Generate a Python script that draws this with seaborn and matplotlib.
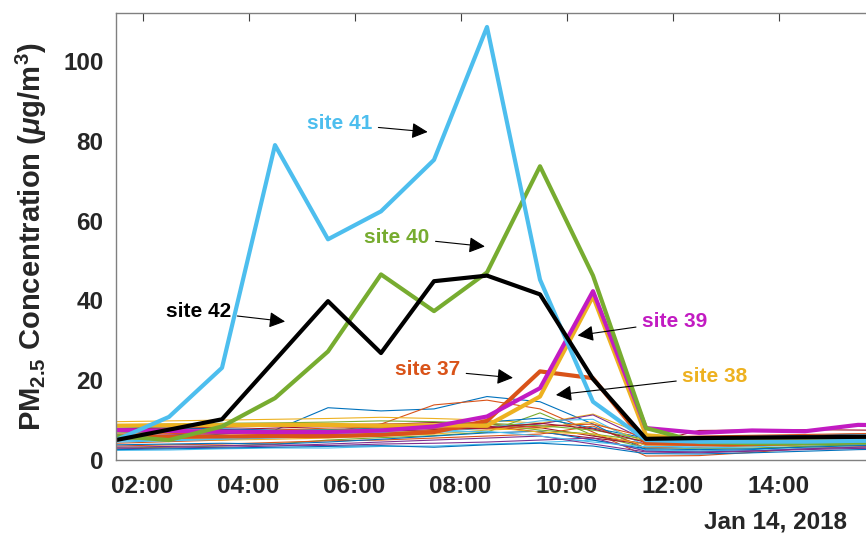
import matplotlib
matplotlib.use("Agg")
import matplotlib.pyplot as plt
import matplotlib.dates as mdates
import seaborn as sns
import pandas as pd

# hourly samples, Jan 14 2018, 01:30 .. 16:30
times = pd.date_range("2018-01-14 01:30", periods=16, freq="h")

# background sites (thin lines)
thin_sites = [
    [5.0, 5.5, 6.5, 7.5, 13.1, 12.3, 12.8, 15.9, 14.6, 9.0, 2.5, 2.2, 2.6, 3.4, 3.8, 4.0],
    [4.2, 4.6, 5.0, 5.8, 7.0, 9.0, 13.8, 15.0, 12.8, 7.0, 1.0, 1.1, 1.9, 2.9, 3.3, 3.5],
    [9.6, 9.8, 10.0, 10.2, 10.4, 10.7, 10.4, 10.0, 9.2, 11.5, 6.2, 5.6, 5.4, 5.8, 6.0, 6.1],
    [6.0, 6.3, 6.6, 7.0, 7.1, 7.5, 8.0, 8.2, 9.0, 11.3, 5.0, 4.6, 4.2, 4.5, 4.9, 5.0],
    [3.0, 3.2, 3.5, 4.0, 5.0, 5.6, 6.1, 7.0, 11.8, 6.2, 3.1, 2.9, 3.0, 3.4, 3.8, 4.0],
    [2.4, 2.5, 2.8, 3.0, 3.0, 3.4, 3.5, 4.0, 4.4, 5.0, 2.5, 2.2, 2.4, 2.9, 3.0, 3.1],
    [7.2, 7.3, 7.6, 8.0, 8.4, 8.9, 9.4, 9.0, 8.1, 6.0, 4.1, 7.4, 7.5, 7.6, 7.5, 7.4],
    [8.3, 8.0, 7.8, 7.5, 7.6, 8.0, 8.5, 9.5, 10.5, 8.0, 5.5, 5.8, 6.0, 6.2, 6.5, 6.6],
    [3.5, 3.8, 4.0, 4.4, 4.8, 5.0, 5.5, 6.0, 6.5, 8.5, 3.0, 3.2, 3.5, 4.0, 4.2, 4.3],
    [5.5, 5.2, 5.0, 5.2, 5.5, 6.0, 6.5, 7.5, 8.0, 9.5, 4.5, 4.0, 3.8, 4.0, 4.2, 4.4],
    [2.8, 3.0, 3.2, 3.5, 4.0, 4.5, 5.0, 5.5, 6.0, 4.0, 2.0, 1.8, 2.2, 2.8, 3.2, 3.4],
    [6.8, 7.0, 7.0, 7.2, 7.5, 7.8, 8.5, 9.0, 7.5, 6.5, 4.8, 5.0, 5.2, 5.5, 5.8, 6.0],
    [4.5, 4.8, 5.2, 5.5, 6.0, 6.5, 7.0, 8.0, 9.8, 10.2, 3.5, 3.0, 3.3, 3.8, 4.0, 4.1],
    [7.8, 8.0, 8.2, 8.5, 8.8, 9.0, 8.8, 8.5, 7.0, 5.5, 4.0, 4.2, 4.5, 5.0, 5.2, 5.3],
    [3.8, 4.0, 4.2, 4.0, 4.5, 5.2, 6.0, 6.8, 7.2, 5.0, 2.8, 2.6, 2.8, 3.2, 3.6, 3.7],
    [6.5, 6.6, 6.8, 7.5, 8.0, 8.2, 8.0, 7.8, 8.5, 9.0, 5.8, 6.0, 6.2, 6.4, 6.6, 6.8],
    [5.2, 5.4, 5.6, 5.8, 6.2, 6.8, 7.4, 8.2, 7.0, 6.5, 3.8, 3.6, 3.6, 3.9, 4.2, 4.3],
    [3.2, 3.4, 3.6, 3.8, 3.6, 4.0, 4.2, 4.5, 5.0, 5.5, 2.2, 2.0, 2.3, 2.6, 2.9, 3.0],
    [8.8, 9.0, 9.2, 9.3, 9.5, 9.8, 9.6, 9.2, 8.6, 7.5, 5.2, 5.0, 5.1, 5.4, 5.6, 5.7],
    [4.8, 5.0, 5.4, 6.0, 6.6, 6.9, 7.0, 7.2, 6.0, 4.5, 3.3, 3.5, 3.7, 4.0, 4.4, 4.5],
    [6.2, 6.0, 6.0, 6.4, 6.8, 7.2, 7.6, 8.0, 9.2, 7.8, 4.4, 4.3, 4.5, 4.7, 5.0, 5.1],
    [2.6, 2.8, 3.0, 3.2, 3.4, 3.6, 3.2, 3.8, 4.2, 3.5, 1.6, 1.5, 1.8, 2.2, 2.6, 2.8],
]

# highlighted sites (thick lines)
site_37 = [5.8, 5.8, 5.9, 6.0, 6.0, 6.3, 7.0, 9.8, 22.2, 20.5, 4.2, 4.0, 4.0, 4.2, 4.5, 4.5]
site_38 = [8.6, 8.7, 8.7, 8.8, 8.8, 8.6, 8.7, 8.6, 15.9, 41.0, 6.2, 5.2, 5.2, 5.3, 5.4, 5.4]
site_39 = [7.5, 7.3, 7.1, 7.0, 7.0, 7.4, 8.4, 10.9, 18.0, 42.3, 8.0, 6.8, 7.4, 7.2, 8.8, 8.6]
site_40 = [6.0, 5.0, 8.4, 15.5, 27.2, 46.5, 37.3, 47.0, 73.6, 46.2, 8.0, 4.5, 4.2, 4.2, 4.4, 4.5]
site_41 = [5.0, 10.8, 23.1, 78.9, 55.3, 62.3, 75.2, 108.5, 45.2, 14.6, 5.0, 4.6, 4.6, 4.6, 4.8, 4.8]
site_42 = [5.0, 7.6, 10.2, 25.0, 39.8, 26.8, 44.8, 46.2, 41.5, 20.3, 5.3, 5.5, 5.6, 5.7, 5.8, 5.9]

highlight = {
    "site 37": (site_37, "#D95319"),
    "site 38": (site_38, "#EDB120"),
    "site 39": (site_39, "#C21BC2"),
    "site 40": (site_40, "#77AC30"),
    "site 41": (site_41, "#4DBEEE"),
    "site 42": (site_42, "#000000"),
}

matlab_colors = ["#0072BD", "#D95319", "#EDB120", "#7E2F8E",
                 "#77AC30", "#4DBEEE", "#A2142F"]

sns.set_style("white")
plt.rcParams["font.family"] = ["Liberation Sans", "DejaVu Sans"]
plt.rcParams["font.weight"] = "bold"
plt.rcParams["mathtext.fontset"] = "custom"
plt.rcParams["mathtext.rm"] = "Liberation Sans:bold"
plt.rcParams["mathtext.it"] = "Liberation Sans:italic:bold"
plt.rcParams["mathtext.bf"] = "Liberation Sans:bold"

fig = plt.figure(figsize=(8.66, 5.33), dpi=100)
# axes runs past the right edge of the figure (cropped like the original)
ax = fig.add_axes([116 / 866, 73 / 533, 795 / 866, 447 / 533])

thin_df = pd.DataFrame(
    [(t, f"bg{i}", v) for i, vals in enumerate(thin_sites) for t, v in zip(times, vals)],
    columns=["time", "site", "pm25"],
)
pal = [matlab_colors[i % len(matlab_colors)] for i in range(len(thin_sites))]
sns.lineplot(data=thin_df, x="time", y="pm25", hue="site", palette=pal,
             linewidth=0.8, legend=False, ax=ax)

for name, (vals, col) in highlight.items():
    sns.lineplot(x=times, y=vals, color=col, linewidth=3.0, ax=ax)

# annotations: (text pos, arrow head)
labels = [
    ("site 41", "#4DBEEE", (5.72, 84.2), (7.38, 82.2)),
    ("site 40", "#77AC30", (6.80, 55.8), (8.46, 53.5)),
    ("site 42", "#000000", (3.06, 37.2), (4.69, 34.7)),
    ("site 37", "#D95319", (7.38, 22.6), (8.99, 20.6)),
    ("site 39", "#C21BC2", (12.04, 34.7), (10.21, 31.2)),
    ("site 38", "#EDB120", (12.80, 20.9), (9.80, 16.3)),
]
t0 = pd.Timestamp("2018-01-14")
for txt, col, (tx, ty), (hx, hy) in labels:
    xt = mdates.date2num(t0 + pd.Timedelta(hours=tx))
    xh = mdates.date2num(t0 + pd.Timedelta(hours=hx))
    ax.annotate(txt, xy=(xh, hy), xytext=(xt, ty), color=col, fontsize=15,
                fontweight="bold", ha="center", va="center",
                arrowprops=dict(arrowstyle="-|>", color="black", lw=0.8,
                                mutation_scale=24, shrinkA=2, shrinkB=0))

ax.set_xlim(times[0], times[-1])
ax.set_ylim(0, 112)
ax.set_yticks(range(0, 101, 20))
ax.xaxis.set_major_locator(mdates.HourLocator(byhour=range(2, 15, 2)))
ax.xaxis.set_major_formatter(mdates.DateFormatter("%H:%M"))
ax.set_xlabel("")
ax.set_ylabel(r"PM$_{\mathrm{2.5}}$ Concentration ($\mu$g/m$^{\mathrm{3}}$)",
              fontsize=21, fontweight="bold", labelpad=10, color="#262626")

for s in ax.spines.values():
    s.set_color("#808080")
    s.set_linewidth(1.0)
ax.tick_params(axis="both", direction="in", length=6, width=0.8, color="#404040",
               top=True, right=True, labelsize=17.5, labelcolor="#262626")
ax.tick_params(axis="x", pad=11)
ax.tick_params(axis="y", pad=9)
for lab in ax.get_xticklabels() + ax.get_yticklabels():
    lab.set_fontweight("bold")

fig.text(847 / 866, 11 / 533, "Jan 14, 2018", ha="right", va="center",
         fontsize=17.5, fontweight="bold", color="#262626")

fig.savefig("out.png", dpi=100)
